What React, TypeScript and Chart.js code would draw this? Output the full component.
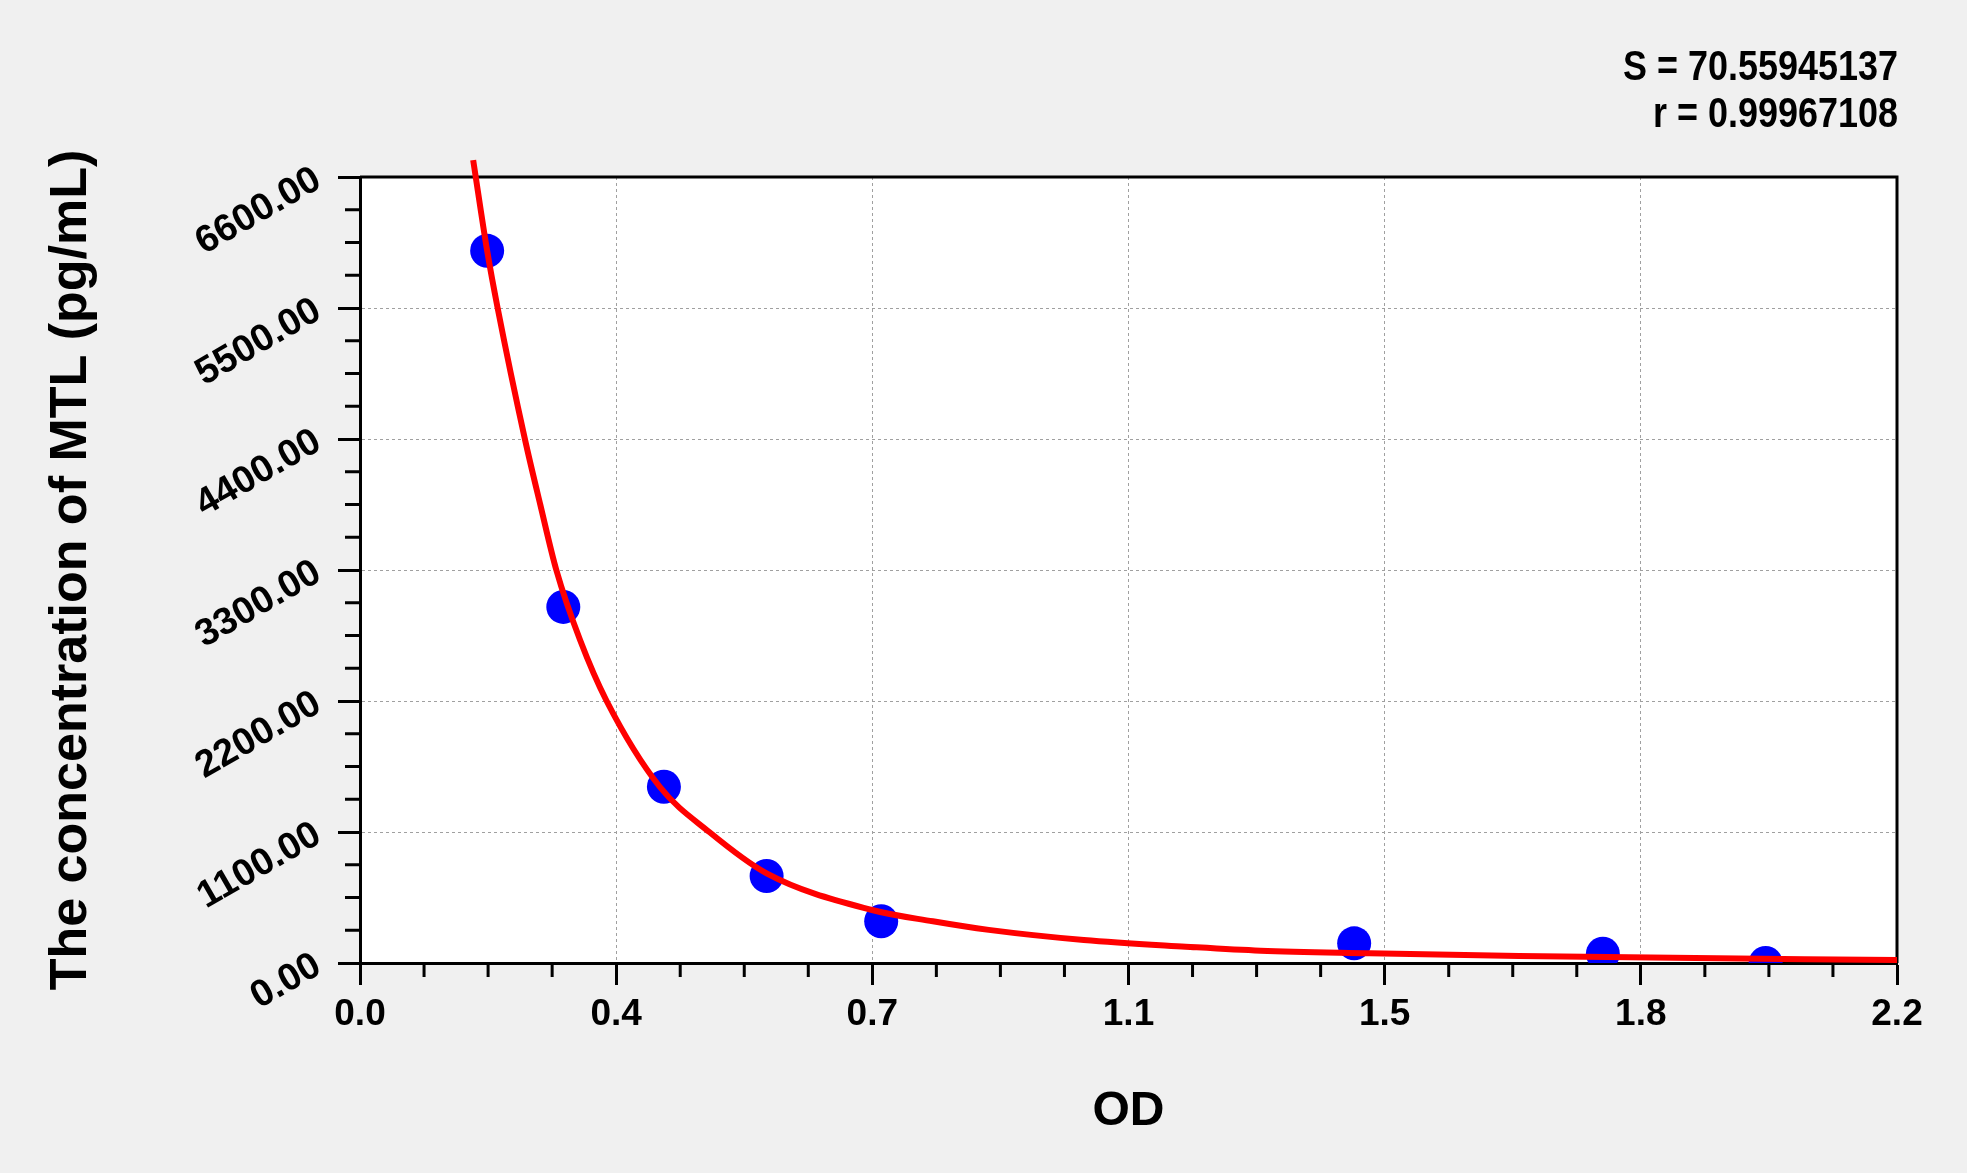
import React, { useEffect, useRef } from 'react';
import { Chart, registerables } from 'chart.js';

Chart.register(...registerables);

// standards (OD vs concentration)
const odValues = [0.182, 0.291, 0.435, 0.582, 0.746, 1.423, 1.779, 2.012];
const concValues = [5980, 2990, 1480, 730, 350, 165, 78, 0];

// fitted curve
const fitOd = [0.162, 0.182, 0.197, 0.236, 0.258, 0.281, 0.315, 0.353, 0.429, 0.5, 0.582, 0.733, 0.82, 0.9, 1.036, 1.182, 1.289, 1.445, 1.659, 2.068, 2.2];
const fitConc = [6742, 5980, 5500, 4400, 3850, 3300, 2712, 2200, 1480, 1100, 753, 445, 350, 278, 193, 137, 103, 82, 59, 31, 25];

const xTickValues = [0, 0.3667, 0.7333, 1.1, 1.4667, 1.8333, 2.2];
const xTickLabels = ['0.0', '0.4', '0.7', '1.1', '1.5', '1.8', '2.2'];
const yTickValues = [0, 1100, 2200, 3300, 4400, 5500, 6600];
const yTickLabels = ['0.00', '1100.00', '2200.00', '3300.00', '4400.00', '5500.00', '6600.00'];

const statLines = ['S = 70.55945137', 'r = 0.99967108'];

const FONT = "'Liberation Sans', Arial, sans-serif";

const framePlugin = {
  id: 'frame',
  beforeDraw(chart: any) {
    const { ctx, chartArea: a } = chart;
    ctx.save();
    ctx.fillStyle = '#ffffff';
    ctx.fillRect(a.left, a.top, a.right - a.left, a.bottom - a.top);
    ctx.restore();
  },
  beforeDatasetsDraw(chart: any) {
    const { ctx, chartArea: a, scales } = chart;
    ctx.save();
    // top + right edge of the box
    ctx.strokeStyle = '#000';
    ctx.lineWidth = 3;
    ctx.beginPath();
    ctx.moveTo(a.left, a.top);
    ctx.lineTo(a.right, a.top);
    ctx.lineTo(a.right, a.bottom);
    ctx.stroke();

    // minor ticks (4 per major step)
    ctx.beginPath();
    for (let i = 0; i < xTickValues.length - 1; i++) {
      const step = (xTickValues[i + 1] - xTickValues[i]) / 4;
      for (let k = 1; k < 4; k++) {
        const px = scales.x.getPixelForValue(xTickValues[i] + step * k);
        ctx.moveTo(px, a.bottom);
        ctx.lineTo(px, a.bottom + 14);
      }
    }
    for (let i = 0; i < yTickValues.length - 1; i++) {
      const step = (yTickValues[i + 1] - yTickValues[i]) / 4;
      for (let k = 1; k < 4; k++) {
        const py = scales.y.getPixelForValue(yTickValues[i] + step * k);
        ctx.moveTo(a.left, py);
        ctx.lineTo(a.left - 15, py);
      }
    }
    ctx.stroke();

    // slanted y labels
    ctx.fillStyle = '#000';
    ctx.font = `bold 38px ${FONT}`;
    ctx.textAlign = 'right';
    ctx.textBaseline = 'middle';
    yTickValues.forEach((v, i) => {
      const py = scales.y.getPixelForValue(v);
      ctx.save();
      ctx.translate(a.left - 42, py);
      ctx.rotate(-Math.PI / 6);
      ctx.fillText(yTickLabels[i], 0, 0);
      ctx.restore();
    });

    // fit statistics, top right
    ctx.font = "bold 43px 'Liberation Sans Narrow', 'Liberation Sans'";
    const wNarrow = ctx.measureText(statLines[0]).width;
    ctx.font = "bold 43px 'Liberation Sans'";
    const wWide = ctx.measureText(statLines[0]).width;
    const sx = Math.abs(wNarrow - wWide) < 1 ? 0.82 : 1;
    ctx.font = "bold 43px 'Liberation Sans Narrow', 'Liberation Sans'";
    ctx.textAlign = 'right';
    ctx.textBaseline = 'alphabetic';
    [80, 127].forEach((y, i) => {
      ctx.save();
      ctx.translate(a.right + 1, y);
      ctx.scale(sx * 1.02, 1);
      ctx.fillText(statLines[i], 0, 0);
      ctx.restore();
    });
    ctx.restore();
  },
};

const gridOpts = {
  color: '#a0a0a0',
  lineWidth: 1,
  tickColor: '#000',
  tickWidth: 3,
  tickLength: 22,
};

const App = () => {
  const canvasRef = useRef<HTMLCanvasElement>(null);

  useEffect(() => {
    const ctx: any = canvasRef.current && canvasRef.current.getContext('2d');

    const config: any = {
      type: 'scatter',
      data: {
        datasets: [
          {
            type: 'line',
            label: 'fit',
            data: fitOd.map((x, i) => ({ x, y: fitConc[i] })),
            borderColor: '#ff0000',
            borderWidth: 6,
            pointRadius: 0,
            cubicInterpolationMode: 'monotone',
            fill: false,
            clip: false,
          },
          {
            label: 'standards',
            data: odValues.map((x, i) => ({ x, y: concValues[i] })),
            backgroundColor: '#0000ff',
            borderColor: '#0000ff',
            borderWidth: 0,
            pointRadius: 17,
          },
        ],
      },
      options: {
        animation: false,
        responsive: false,
        devicePixelRatio: 1,
        layout: { padding: { left: 0, top: 177, right: 70, bottom: 0 } },
        plugins: {
          legend: { display: false },
          tooltip: { enabled: false },
        },
        scales: {
          x: {
            type: 'linear',
            min: 0,
            max: 2.2,
            afterBuildTicks: (s: any) => {
              s.ticks = xTickValues.map((value) => ({ value }));
            },
            afterFit: (s: any) => {
              s.height = 210;
            },
            ticks: {
              callback: (_v: any, i: number) => xTickLabels[i],
              font: { family: FONT, size: 37, weight: 'bold' },
              color: '#000',
              padding: 8,
              maxRotation: 0,
              autoSkip: false,
            },
            grid: gridOpts,
            border: { display: true, color: '#000', width: 3, dash: [3, 3] },
            title: {
              display: true,
              text: 'OD',
              color: '#000',
              font: { family: FONT, size: 48, weight: 'bold' },
              padding: { top: 0, bottom: 32 },
            },
          },
          y: {
            type: 'linear',
            min: 0,
            max: 6600,
            afterBuildTicks: (s: any) => {
              s.ticks = yTickValues.map((value) => ({ value }));
            },
            afterFit: (s: any) => {
              s.width = 360;
            },
            ticks: { display: false },
            grid: gridOpts,
            border: { display: true, color: '#000', width: 3, dash: [3, 3] },
            title: {
              display: true,
              text: 'The concentration of MTL (pg/mL)',
              color: '#000',
              font: { family: FONT, size: 52, weight: 'bold' },
              padding: { top: 40, bottom: 0 },
            },
          },
        },
      },
      plugins: [framePlugin],
    };

    const chart = new Chart(ctx, config);
    return () => {
      chart.destroy();
    };
  }, []);

  return (
    <div style={{ position: 'absolute', left: 0, top: 0, width: 1967, height: 1173, background: '#f0f0f0' }}>
      <canvas ref={canvasRef} width={1967} height={1173} style={{ display: 'block' }}></canvas>
    </div>
  );
};

export default App;
